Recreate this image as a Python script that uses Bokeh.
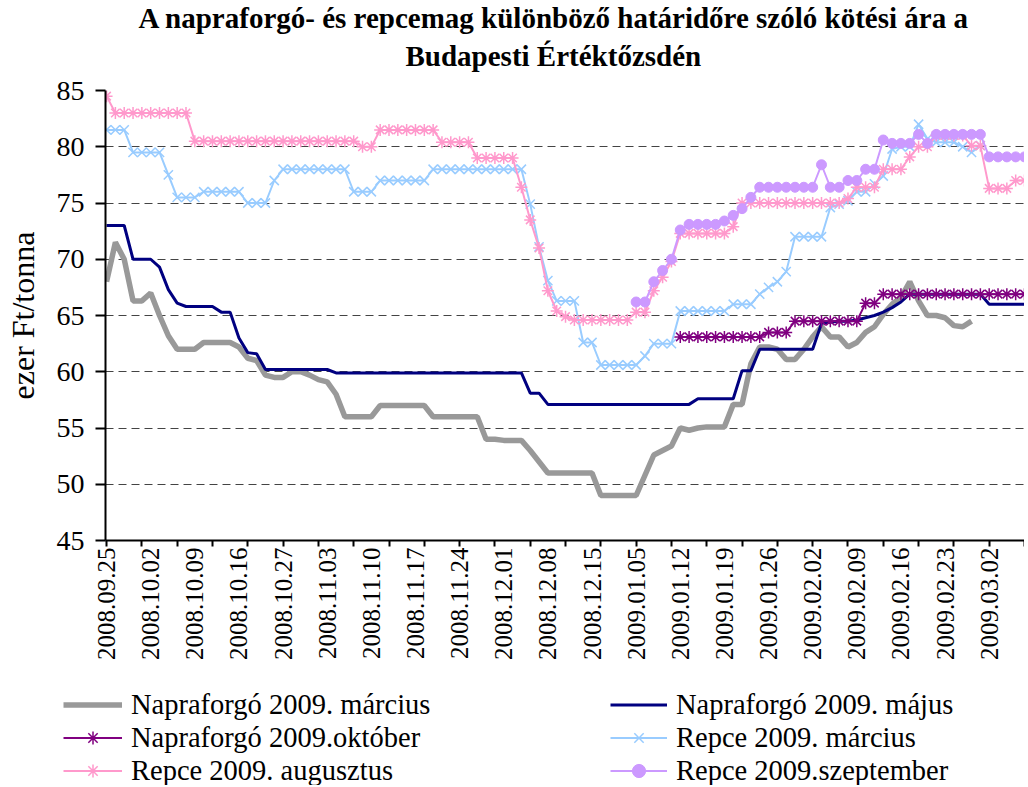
import math
from bokeh.plotting import figure
from bokeh.layouts import column, row
from bokeh.models import Range1d, FixedTicker, Legend, LegendItem, Title
from bokeh.embed import file_html
from bokeh.resources import INLINE

# ---------------- data ----------------
tick_labels = ["2008.09.25", "2008.10.02", "2008.10.09", "2008.10.16", "2008.10.27",
               "2008.11.03", "2008.11.10", "2008.11.17", "2008.11.24", "2008.12.01",
               "2008.12.08", "2008.12.15", "2009.01.05", "2009.01.12", "2009.01.19",
               "2009.01.26", "2009.02.02", "2009.02.09", "2009.02.16", "2009.02.23",
               "2009.03.02"]
tick_pos = [0, 5, 10, 15, 20, 25, 30, 35, 40, 45, 50, 55, 60, 65, 70, 75, 80, 85, 90, 95, 100]
minor_tick_pos = [0, 4, 8, 12, 16, 20, 24, 28, 32, 36, 40, 44, 48, 52, 56, 60, 64, 68, 72,
                  76, 80, 84, 88, 92, 96, 100, 104]
y_ticks = [45, 50, 55, 60, 65, 70, 75, 80, 85]

# trading-day index of first value of each series
napr_marc_start = 0
napr_marc = [68.0, 71.5, 70.0, 66.3, 66.3, 67.0, 65.0, 63.2, 62.0, 62.0,
             62.0, 62.6, 62.6, 62.6, 62.6, 62.2, 61.2, 61.0, 59.7, 59.5,
             59.5, 60.0, 60.0, 59.7, 59.3, 59.1, 58.0, 56.0, 56.0, 56.0,
             56.0, 57.0, 57.0, 57.0, 57.0, 57.0, 57.0, 56.0, 56.0, 56.0,
             56.0, 56.0, 56.0, 54.0, 54.0, 53.9, 53.9, 53.9, 53.0, 52.0,
             51.0, 51.0, 51.0, 51.0, 51.0, 51.0, 49.0, 49.0, 49.0, 49.0,
             49.0, 50.8, 52.6, 53.0, 53.4, 55.0, 54.8, 55.0, 55.1, 55.1,
             55.1, 57.1, 57.1, 60.7, 62.2, 62.2, 62.0, 61.1, 61.1, 62.0,
             63.1, 64.0, 63.1, 63.1, 62.2, 62.6, 63.5, 64.0, 65.1, 66.0,
             66.6, 68.0, 66.3, 65.0, 65.0, 64.8, 64.1, 64.0, 64.5]

napr_maj_start = 0
napr_maj = [73.0, 73.0, 73.0, 70.0, 70.0, 70.0, 69.3, 67.3, 66.1, 65.8,
            65.8, 65.8, 65.8, 65.3, 65.3, 63.0, 61.7, 61.6, 60.2, 60.2,
            60.2, 60.2, 60.2, 60.2, 60.2, 60.2, 59.9, 59.9, 59.9, 59.9,
            59.9, 59.9, 59.9, 59.9, 59.9, 59.9, 59.9, 59.9, 59.9, 59.9,
            59.9, 59.9, 59.9, 59.9, 59.9, 59.9, 59.9, 59.9, 58.1, 58.1,
            57.1, 57.1, 57.1, 57.1, 57.1, 57.1, 57.1, 57.1, 57.1, 57.1,
            57.1, 57.1, 57.1, 57.1, 57.1, 57.1, 57.1, 57.6, 57.6, 57.6,
            57.6, 57.6, 60.1, 60.1, 62.0, 62.0, 62.0, 62.0, 62.0, 62.0,
            62.0, 64.3, 64.4, 64.5, 64.5, 64.6, 64.8, 65.0, 65.3, 65.7,
            66.2, 66.9, 66.9, 66.9, 66.9, 66.9, 66.9, 66.9, 66.9, 66.9,
            66.0, 66.0, 66.0, 66.0, 66.0]

napr_okt_start = 65
napr_okt = [63.1, 63.1, 63.1, 63.1, 63.1, 63.1, 63.1, 63.1, 63.1, 63.1,
            63.5, 63.5, 63.5, 64.5, 64.5, 64.5, 64.5, 64.5, 64.5, 64.5,
            64.5, 66.1, 66.1, 66.9, 66.9, 66.9, 66.9, 66.9, 66.9, 66.9,
            66.9, 66.9, 66.9, 66.9, 66.9, 66.9, 66.9, 66.9, 66.9, 66.9]

repce_marc_start = 0
repce_marc = [81.5, 81.5, 81.5, 79.5, 79.5, 79.5, 79.5, 77.5, 75.5, 75.5,
              75.5, 76.0, 76.0, 76.0, 76.0, 76.0, 75.0, 75.0, 75.0, 77.0,
              78.0, 78.0, 78.0, 78.0, 78.0, 78.0, 78.0, 78.0, 76.0, 76.0,
              76.0, 77.0, 77.0, 77.0, 77.0, 77.0, 77.0, 78.0, 78.0, 78.0,
              78.0, 78.0, 78.0, 78.0, 78.0, 78.0, 78.0, 78.0, 74.9, 71.1,
              68.1, 66.3, 66.3, 66.3, 62.6, 62.6, 60.6, 60.6, 60.6, 60.6,
              60.6, 61.4, 62.5, 62.5, 62.5, 65.4, 65.4, 65.4, 65.4, 65.4,
              65.4, 66.0, 66.0, 66.0, 66.9, 67.5, 68.0, 68.9, 72.0, 72.0,
              72.0, 72.0, 74.6, 74.9, 75.2, 76.0, 76.0, 76.7, 77.4, 79.8,
              80.0, 80.0, 82.0, 80.7, 80.4, 80.4, 80.4, 80.0, 79.5, 80.1]

repce_aug_start = 0
repce_aug = [84.5, 83.0, 83.0, 83.0, 83.0, 83.0, 83.0, 83.0, 83.0, 83.0,
             80.5, 80.5, 80.5, 80.5, 80.5, 80.5, 80.5, 80.5, 80.5, 80.5,
             80.5, 80.5, 80.5, 80.5, 80.5, 80.5, 80.5, 80.5, 80.5, 80.0,
             80.0, 81.5, 81.5, 81.5, 81.5, 81.5, 81.5, 81.5, 80.4, 80.4,
             80.4, 80.4, 79.0, 79.0, 79.0, 79.0, 79.0, 76.4, 73.5, 71.0,
             67.2, 65.4, 64.9, 64.6, 64.6, 64.6, 64.6, 64.6, 64.6, 64.6,
             65.3, 65.3, 67.2, 68.4, 69.8, 72.3, 72.3, 72.3, 72.3, 72.3,
             72.3, 72.9, 75.0, 75.0, 75.0, 75.0, 75.0, 75.0, 75.0, 75.0,
             75.0, 75.0, 75.0, 75.0, 75.4, 76.4, 76.4, 76.4, 78.0, 78.0,
             78.0, 79.1, 80.0, 80.0, 81.0, 81.0, 81.0, 81.0, 80.1, 80.1,
             76.3, 76.3, 76.3, 77.0, 77.0]

repce_szept_start = 60
repce_szept = [66.2, 66.2, 68.0, 69.0, 70.0, 72.6, 73.1, 73.1, 73.1, 73.1,
               73.4, 73.9, 74.5, 75.5, 76.4, 76.4, 76.4, 76.4, 76.4, 76.4,
               76.4, 78.4, 76.4, 76.4, 77.0, 77.0, 78.0, 78.0, 80.6, 80.3,
               80.3, 80.3, 81.1, 80.3, 81.1, 81.1, 81.1, 81.1, 81.1, 81.1,
               79.1, 79.1, 79.1, 79.1, 79.1]

series_labels = ["Napraforgó 2009. március", "Napraforgó 2009. május",
                 "Napraforgó 2009.október", "Repce 2009. március",
                 "Repce 2009. augusztus", "Repce 2009.szeptember"]
title_line1 = "A napraforgó- és repcemag különböző határidőre szóló kötési ára a"
title_line2 = "Budapesti Értéktőzsdén"


def xs(start, vals):
    return list(range(start, start + len(vals)))


SERIF = "Liberation Serif"
W = 1024

# styles
ST_GRAY = dict(line_color="#999999", line_width=5.5)
ST_NAVY = dict(line_color="#000080", line_width=3)
ST_OKT = dict(line_color="#800080", line_width=2)
ST_OKT_M = dict(marker="asterisk", size=12, line_color="#800080", line_width=1.5)
ST_RM = dict(line_color="#99CCFF", line_width=2)
ST_RM_M = dict(marker="x", size=13, line_color="#99CCFF", line_width=1.5)
ST_RA = dict(line_color="#FF99CC", line_width=2)
ST_RA_M = dict(marker="asterisk", size=12, line_color="#FF99CC", line_width=1.5)
ST_RS = dict(line_color="#CC99FF", line_width=2)
ST_RS_M = dict(marker="circle", size=10, fill_color="#CC99FF", line_color="#CC99FF")


def draw_series(fig):
    r = {}
    r["gray"] = [fig.line(xs(napr_marc_start, napr_marc), napr_marc, **ST_GRAY)]
    r["navy"] = [fig.line(xs(napr_maj_start, napr_maj), napr_maj, **ST_NAVY)]
    r["okt"] = [fig.line(xs(napr_okt_start, napr_okt), napr_okt, **ST_OKT),
                fig.scatter(xs(napr_okt_start, napr_okt), napr_okt, **ST_OKT_M)]
    r["rm"] = [fig.line(xs(repce_marc_start, repce_marc), repce_marc, **ST_RM),
               fig.scatter(xs(repce_marc_start, repce_marc), repce_marc, **ST_RM_M)]
    r["ra"] = [fig.line(xs(repce_aug_start, repce_aug), repce_aug, **ST_RA),
               fig.scatter(xs(repce_aug_start, repce_aug), repce_aug, **ST_RA_M)]
    r["rs"] = [fig.line(xs(repce_szept_start, repce_szept), repce_szept, **ST_RS),
               fig.scatter(xs(repce_szept_start, repce_szept), repce_szept, **ST_RS_M)]
    return r


# ---------------- main figure ----------------
p = figure(width=W, height=680,
           x_range=Range1d(-0.12, 104.0), y_range=Range1d(45, 85),
           output_backend="svg", toolbar_location=None,
           min_border_left=105, min_border_right=0,
           min_border_top=90, min_border_bottom=140)
p.outline_line_color = None
p.background_fill_color = "white"
p.border_fill_color = "white"

# title: line 1 is the outer panel, line 2 sits next to the frame
p.title.text = title_line1
p.title.align = "left"
p.title.offset = 33
p.title.text_font = SERIF
p.title.text_font_size = "29px"
p.title.text_font_style = "bold"
p.title.text_color = "black"
p.title.standoff = -30
t2 = Title(text=title_line2, align="left", offset=300, text_font=SERIF,
           text_font_size="29px", text_font_style="bold", text_color="black",
           standoff=38)
p.add_layout(t2, "above")

# y axis
p.yaxis.ticker = FixedTicker(ticks=y_ticks)
p.yaxis.axis_line_width = 2
p.yaxis.axis_line_color = "black"
p.yaxis.major_tick_line_width = 2
p.yaxis.major_tick_line_color = "black"
p.yaxis.major_tick_out = 10
p.yaxis.major_tick_in = 0
p.yaxis.minor_tick_line_color = None
p.yaxis.major_label_text_font = SERIF
p.yaxis.major_label_text_font_size = "28px"
p.yaxis.major_label_text_color = "black"
p.yaxis.major_label_standoff = 11
p.yaxis.axis_label = "ezer Ft/tonna"
p.yaxis.axis_label_text_font = SERIF
p.yaxis.axis_label_text_font_size = "32px"
p.yaxis.axis_label_text_font_style = "normal"
p.yaxis.axis_label_text_color = "black"
p.yaxis.axis_label_standoff = 13

# x axis
p.xaxis.ticker = FixedTicker(ticks=tick_pos, minor_ticks=minor_tick_pos)
p.xaxis.major_label_overrides = {pos: lab for pos, lab in zip(tick_pos, tick_labels)}
p.xaxis.major_label_orientation = math.pi / 2
p.xaxis.axis_line_width = 2
p.xaxis.axis_line_color = "black"
p.xaxis.major_tick_out = 0
p.xaxis.major_tick_in = 0
p.xaxis.minor_tick_out = 6
p.xaxis.minor_tick_in = 0
p.xaxis.minor_tick_line_width = 2
p.xaxis.minor_tick_line_color = "black"
p.xaxis.major_label_text_font = SERIF
p.xaxis.major_label_text_font_size = "25px"
p.xaxis.major_label_text_color = "black"
p.xaxis.major_label_standoff = 1

# grid
p.xgrid.visible = False
p.ygrid.grid_line_color = "#444444"
p.ygrid.grid_line_dash = "8 5"
p.ygrid.grid_line_width = 1

draw_series(p)

# ---------------- legend strip (same series, out of its visible range) ----------------
lg = figure(width=W, height=105, x_range=Range1d(-300, -200), y_range=Range1d(-300, -200),
            output_backend="svg", toolbar_location=None,
            x_axis_type=None, y_axis_type=None,
            min_border_left=0, min_border_right=0, min_border_top=0, min_border_bottom=0)
lg.outline_line_color = None
lg.background_fill_color = "white"
lg.border_fill_color = "white"
lg.xgrid.visible = False
lg.ygrid.visible = False
lr = draw_series(lg)


def make_legend(items, loc, gw):
    return Legend(items=items, location=loc, orientation="vertical",
                  glyph_width=gw, glyph_height=33, label_height=33, spacing=0,
                  padding=0, margin=0, label_standoff=9,
                  label_text_font=SERIF, label_text_font_size="28.5px",
                  label_text_color="black",
                  border_line_color=None, background_fill_alpha=0)


leg1 = make_legend([
    LegendItem(label=series_labels[0], renderers=lr["gray"]),
    LegendItem(label=series_labels[2], renderers=lr["okt"]),
    LegendItem(label=series_labels[4], renderers=lr["ra"]),
], (63, -2), 59)
leg2 = make_legend([
    LegendItem(label=series_labels[1], renderers=lr["navy"]),
    LegendItem(label=series_labels[3], renderers=lr["rm"]),
    LegendItem(label=series_labels[5], renderers=lr["rs"]),
], (610, -2), 57)
lg.add_layout(leg1)
lg.add_layout(leg2)

layout = column(p, row(lg), spacing=0)
open("out.html", "w").write(file_html(layout, INLINE))
